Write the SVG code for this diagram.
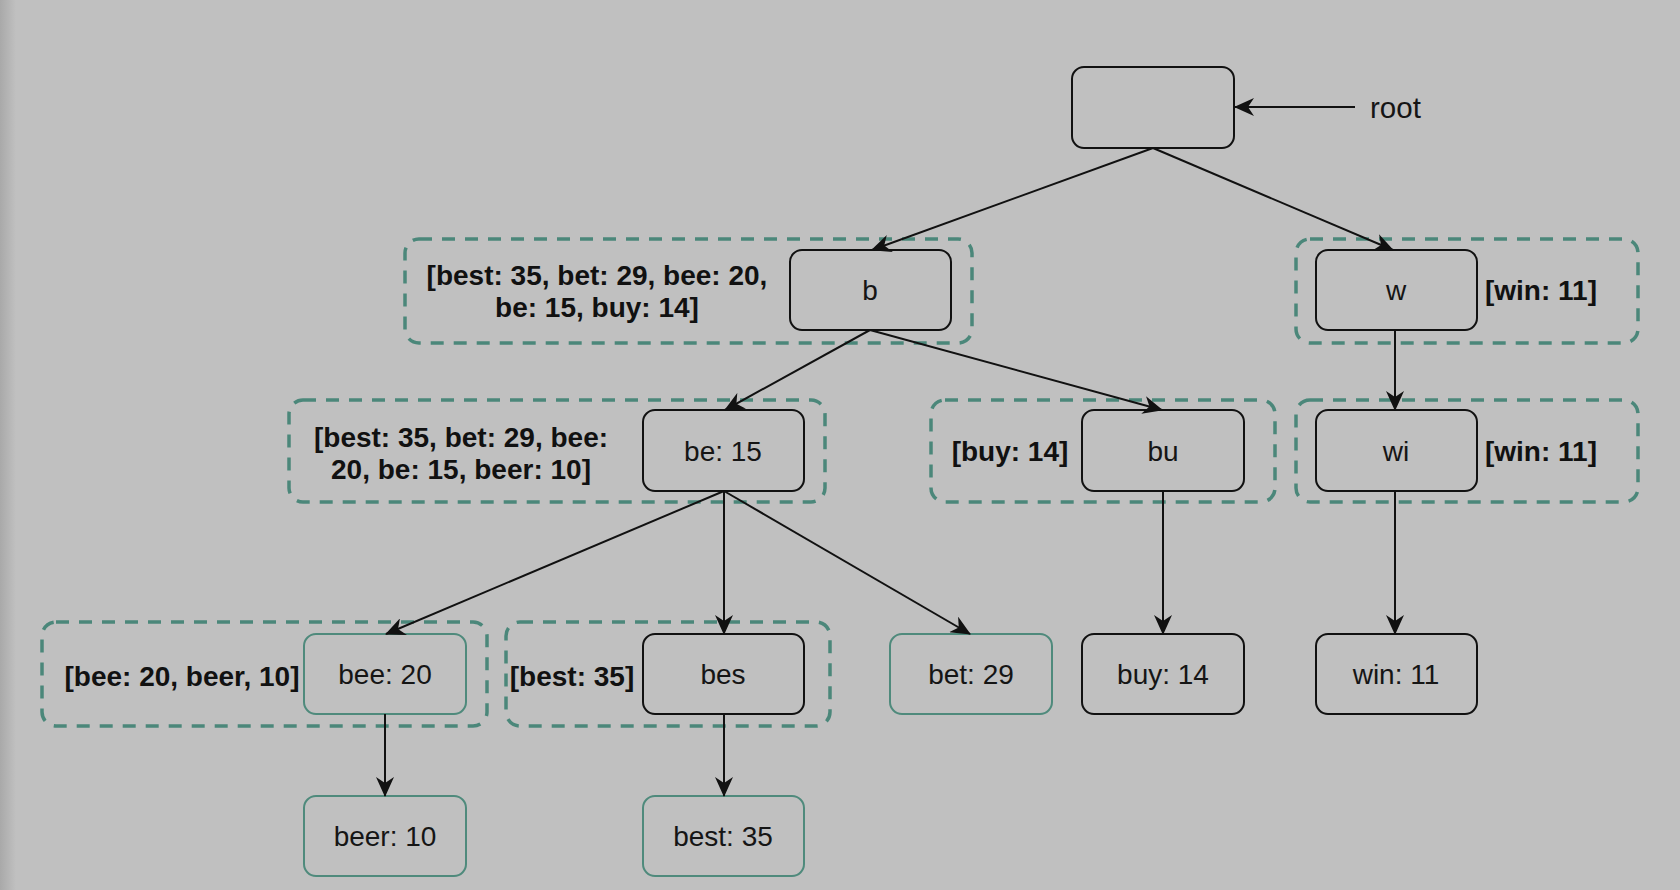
<svg xmlns="http://www.w3.org/2000/svg" width="1680" height="890" viewBox="0 0 1680 890">
  <style>
    .node { fill: none; stroke: #111; stroke-width: 2; }
    .leaf { fill: none; stroke: #4f8a7c; stroke-width: 2; }
    .group { fill: none; stroke: #4b877a; stroke-width: 3.5; stroke-dasharray: 13 10; }
    .lbl { font-family: "Liberation Sans", Arial, sans-serif; font-size: 28px; fill: #151515; text-anchor: middle; }
    .cache { font-family: "Liberation Sans", Arial, sans-serif; font-size: 28px; font-weight: bold; fill: #111; text-anchor: middle; }
    .edge { stroke: #111; stroke-width: 2; fill: none; marker-end: url(#arrow); }
  </style>
  <defs>
    <marker id="arrow" viewBox="0 0 20 18" refX="19" refY="9" markerWidth="20" markerHeight="18" markerUnits="userSpaceOnUse" orient="auto">
      <path d="M0,0 L20,9 L0,18 L6,9 z" fill="#111"/>
    </marker>
    <linearGradient id="edgeShade" x1="0" y1="0" x2="1" y2="0">
      <stop offset="0" stop-color="#a9a9a9"/>
      <stop offset="1" stop-color="#c0c0c0"/>
    </linearGradient>
  </defs>

  <!-- backdrop -->
  <rect x="0" y="0" width="1680" height="890" fill="#c0c0c0"/>
  <rect x="0" y="0" width="16" height="890" fill="url(#edgeShade)"/>

  <!-- cached top-k lists around prefix nodes -->
  <g id="cache-b">
    <rect class="group" x="405" y="239" width="567" height="104" rx="14"/>
    <text class="cache" x="597" y="285">[best: 35, bet: 29, bee: 20,</text>
    <text class="cache" x="597" y="317">be: 15, buy: 14]</text>
  </g>
  <g id="cache-w">
    <rect class="group" x="1296" y="239" width="342" height="104" rx="14"/>
    <text class="cache" x="1541" y="300">[win: 11]</text>
  </g>
  <g id="cache-be">
    <rect class="group" x="289" y="400" width="536" height="102" rx="14"/>
    <text class="cache" x="461" y="447">[best: 35, bet: 29, bee:</text>
    <text class="cache" x="461" y="479">20, be: 15, beer: 10]</text>
  </g>
  <g id="cache-bu">
    <rect class="group" x="931" y="400" width="344" height="102" rx="14"/>
    <text class="cache" x="1010" y="461">[buy: 14]</text>
  </g>
  <g id="cache-wi">
    <rect class="group" x="1296" y="400" width="342" height="102" rx="14"/>
    <text class="cache" x="1541" y="461">[win: 11]</text>
  </g>
  <g id="cache-bee">
    <rect class="group" x="42" y="622" width="445" height="104" rx="14"/>
    <text class="cache" x="182" y="686">[bee: 20, beer, 10]</text>
  </g>
  <g id="cache-bes">
    <rect class="group" x="506" y="622" width="324" height="104" rx="14"/>
    <text class="cache" x="572" y="686">[best: 35]</text>
  </g>

  <!-- trie nodes -->
  <g id="node-root">
    <rect class="node" x="1072" y="67" width="162" height="81" rx="12"/>
  </g>
  <g id="root-label">
    <text class="lbl" x="1370" y="118" style="text-anchor:start;font-size:29.5px">root</text>
  </g>
  <g id="node-b">
    <rect class="node" x="790" y="250" width="161" height="80" rx="12"/>
    <text class="lbl" x="870" y="300">b</text>
  </g>
  <g id="node-w">
    <rect class="node" x="1316" y="250" width="161" height="80" rx="12"/>
    <text class="lbl" x="1396" y="300">w</text>
  </g>
  <g id="node-be">
    <rect class="node" x="643" y="410" width="161" height="81" rx="12"/>
    <text class="lbl" x="723" y="461">be: 15</text>
  </g>
  <g id="node-bu">
    <rect class="node" x="1082" y="410" width="162" height="81" rx="12"/>
    <text class="lbl" x="1163" y="461">bu</text>
  </g>
  <g id="node-wi">
    <rect class="node" x="1316" y="410" width="161" height="81" rx="12"/>
    <text class="lbl" x="1396" y="461">wi</text>
  </g>
  <g id="node-bee">
    <rect class="leaf" x="304" y="634" width="162" height="80" rx="12"/>
    <text class="lbl" x="385" y="684">bee: 20</text>
  </g>
  <g id="node-bes">
    <rect class="node" x="643" y="634" width="161" height="80" rx="12"/>
    <text class="lbl" x="723" y="684">bes</text>
  </g>
  <g id="node-bet">
    <rect class="leaf" x="890" y="634" width="162" height="80" rx="12"/>
    <text class="lbl" x="971" y="684">bet: 29</text>
  </g>
  <g id="node-buy">
    <rect class="node" x="1082" y="634" width="162" height="80" rx="12"/>
    <text class="lbl" x="1163" y="684">buy: 14</text>
  </g>
  <g id="node-win">
    <rect class="node" x="1316" y="634" width="161" height="80" rx="12"/>
    <text class="lbl" x="1396" y="684">win: 11</text>
  </g>
  <g id="node-beer">
    <rect class="leaf" x="304" y="796" width="162" height="80" rx="12"/>
    <text class="lbl" x="385" y="846">beer: 10</text>
  </g>
  <g id="node-best">
    <rect class="leaf" x="643" y="796" width="161" height="80" rx="12"/>
    <text class="lbl" x="723" y="846">best: 35</text>
  </g>

  <!-- edges -->
  <g id="connectors">
    <line class="edge" x1="1355" y1="107" x2="1235" y2="107"/>
    <line class="edge" x1="1153" y1="148" x2="872" y2="250"/>
    <line class="edge" x1="1153" y1="148" x2="1393" y2="250"/>
    <line class="edge" x1="870" y1="330" x2="725" y2="410"/>
    <line class="edge" x1="870" y1="330" x2="1162" y2="410"/>
    <line class="edge" x1="1395" y1="330" x2="1395" y2="410"/>
    <line class="edge" x1="724" y1="491" x2="386" y2="634"/>
    <line class="edge" x1="724" y1="491" x2="724" y2="634"/>
    <line class="edge" x1="724" y1="491" x2="970" y2="634"/>
    <line class="edge" x1="1163" y1="491" x2="1163" y2="634"/>
    <line class="edge" x1="1395" y1="491" x2="1395" y2="634"/>
    <line class="edge" x1="385" y1="714" x2="385" y2="796"/>
    <line class="edge" x1="724" y1="714" x2="724" y2="796"/>
  </g>
</svg>
